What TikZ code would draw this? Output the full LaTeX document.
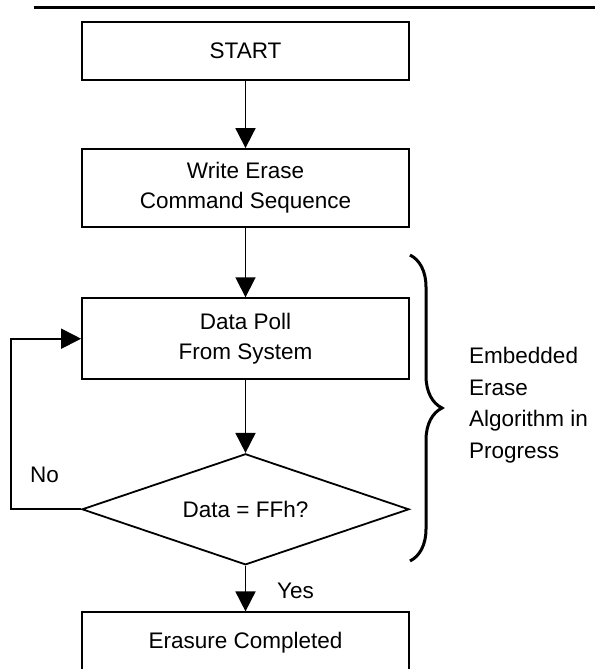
\documentclass[tikz,border=0pt]{standalone}
\usepackage{fontspec}
\setmainfont{Liberation Sans}
\usetikzlibrary{arrows.meta,shapes.geometric,decorations.pathreplacing}

\begin{document}
\begin{tikzpicture}[x=1pt,y=-1pt,
    font=\fontsize{22.5}{30}\selectfont,
    stepbox/.style={draw,line width=1.8pt,minimum width=327pt,inner sep=0pt,align=center},
    test/.style={draw,diamond,aspect=3,line width=1.8pt,minimum width=327pt,minimum height=111pt,inner sep=0pt},
    flow/.style={line width=1.8pt,-{Triangle[length=20pt,width=20pt]}},
    tag/.style={inner sep=0pt,anchor=base west}]
    \useasboundingbox (0,0) rectangle (595,669);
    \clip (0,0) rectangle (595,669);
    \draw[line width=2.8pt] (34,7.5) -- (595,7.5);  % rule over the chart
    \node[stepbox,minimum height=58pt] (start) at (245.5,50.9) {START};
    \node[stepbox,minimum height=78pt] (write) at (245.5,188) {Write Erase\\Command Sequence};
    \node[stepbox,minimum height=81pt] (poll) at (245.5,338.7) {Data Poll\\From System};
    \node[test] (check) at (245.5,509.3) {Data = FFh?};
    \node[stepbox,minimum height=60pt] (done) at (245.5,642.3) {Erasure Completed};
    \draw[flow] (start) -- (write);
    \draw[flow] (write) -- (poll);
    \draw[flow] (poll) -- (check);
    \draw[flow] (check) -- (done);
    \draw[flow] (check.west) -- ++(-70,0) |- (poll.west);  % loop back
    \node[tag] (no) at (30,482) {No};
    \node[tag] (yes) at (277,598) {Yes};
    \draw[line width=3pt,decorate,decoration={brace,amplitude=32pt}] (410,255) -- (410,561);
    \node[inner sep=0pt,anchor=north west,align=left,font=\fontsize{22.5}{31.7}\selectfont] (note) at (469,347)
        {Embedded\\Erase\\Algorithm in\\Progress};
\end{tikzpicture}
\end{document}
